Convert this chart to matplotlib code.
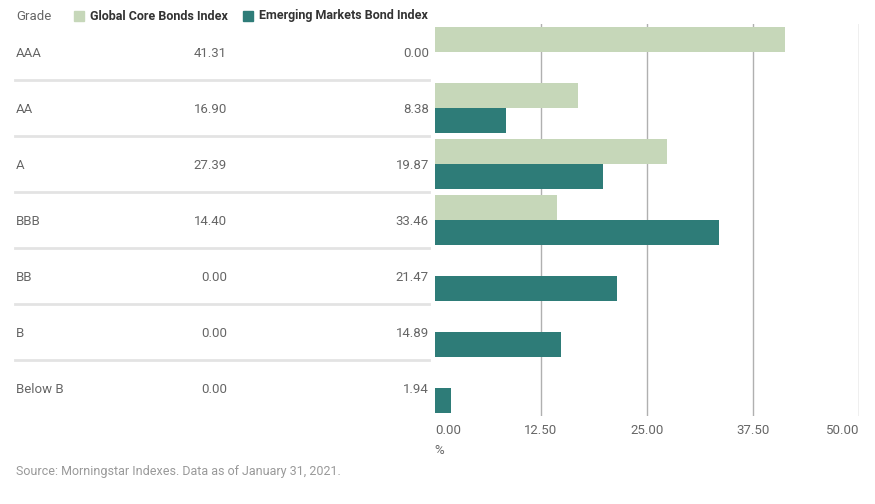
import matplotlib
matplotlib.use("Agg")
import matplotlib.pyplot as plt
import matplotlib.transforms as mtransforms
from matplotlib.lines import Line2D
from matplotlib.patches import Rectangle

plt.rcParams['font.family'] = ['Roboto', 'DejaVu Sans']

# data
grades = ['AAA', 'AA', 'A', 'BBB', 'BB', 'B', 'Below B']
global_core = [41.31, 16.90, 27.39, 14.40, 0.00, 0.00, 0.00]
emerging = [0.00, 8.38, 19.87, 33.46, 21.47, 14.89, 1.94]
xticks = [0, 12.5, 25, 37.5, 50]
xtick_labels = ['0.00', '12.50', '25.00', '37.50', '50.00']

green = '#c6d7b9'
teal = '#2e7c78'
gray_text = '#666666'

W, H = 875, 504
fig = plt.figure(figsize=(W / 100, H / 100), dpi=100)

# bar axes: x 435..859 px, y 24..416 px
ax = fig.add_axes([435 / W, 1 - 416 / H, 424 / W, 392 / H])
ypos = list(range(len(grades)))
bh = 25 / 56
ax.barh([y - bh / 2 for y in ypos], global_core, height=bh, color=green, zorder=2)
ax.barh([y + bh / 2 for y in ypos], emerging, height=bh, color=teal, zorder=2)
ax.set_xlim(0, 50)
ax.set_ylim(len(grades) - 0.5, -0.5)
ax.set_yticks([])
ax.set_xticks(xticks)
ax.set_xticklabels(xtick_labels, fontsize=9.5, color=gray_text)
labels = ax.get_xticklabels()
labels[0].set_horizontalalignment('left')
labels[-1].set_horizontalalignment('right')
ax.tick_params(axis='x', length=0, pad=6)
for s in ax.spines.values():
    s.set_visible(False)
for x in xticks[1:]:
    ax.axvline(x, color='#b0b0b0', lw=1, zorder=1)

# table on the left
tr = mtransforms.blended_transform_factory(fig.transFigure, ax.transData)
for i, g in enumerate(grades):
    fig.text(16 / W, i + 0.03, g, transform=tr, ha='left', va='center', fontsize=9.5, color=gray_text)
    fig.text(227 / W, i + 0.03, f'{global_core[i]:.2f}', transform=tr, ha='right', va='center',
             fontsize=9.5, color=gray_text)
    fig.text(429 / W, i + 0.03, f'{emerging[i]:.2f}', transform=tr, ha='right', va='center',
             fontsize=9.5, color=gray_text)
    if i < len(grades) - 1:
        fig.add_artist(Line2D([15 / W, 429 / W], [i + 0.5, i + 0.5], transform=tr,
                              color='#e3e3e3', lw=2))

# header / legend
ytop = 1 - 16 / H
fig.text(16 / W, ytop, 'Grade', ha='left', va='center', fontsize=9.5, color=gray_text)
fig.add_artist(Rectangle((74 / W, 1 - 21 / H), 10 / W, 10 / H, transform=fig.transFigure,
                         color=green))
fig.text(90 / W, ytop, 'Global Core Bonds Index', ha='left', va='center', fontsize=9,
         color='#333333', fontweight='bold')
fig.add_artist(Rectangle((243 / W, 1 - 21 / H), 10 / W, 10 / H, transform=fig.transFigure,
                         color=teal))
fig.text(259 / W, ytop, 'Emerging Markets Bond Index', ha='left', va='center', fontsize=9,
         color='#333333', fontweight='bold')

fig.text(434 / W, 1 - 450 / H, '%', ha='left', va='center', fontsize=9.5, color=gray_text)
fig.text(16 / W, 1 - 472 / H, 'Source: Morningstar Indexes. Data as of January 31, 2021.',
         ha='left', va='center', fontsize=9, color='#999999')

fig.savefig('out.png', dpi=100)
